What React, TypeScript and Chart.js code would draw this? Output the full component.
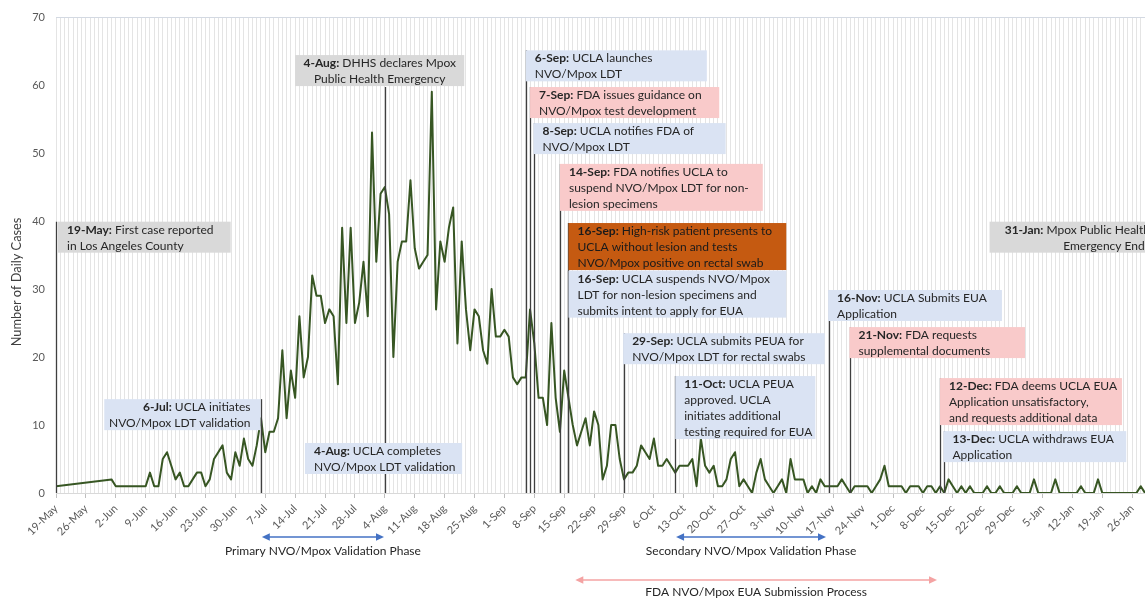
import React, { useEffect, useRef } from 'react';
import { Chart, registerables } from 'chart.js';

Chart.register(...registerables);

// ---------- DATA ----------
// Daily cases, index = days since 19-May (null = no report)
const dailyCases: (number | null)[] = [
  1, null, null, null, null, null, null, null, null, null, null, null, null, 2, 1, 1, 1, 1, 1, 1,
  1, 1, 3, 1, 1, 5, 6, 4, 2, 3, 1, 1, 2, 3, 3, 1, 2, 5, 6, 7,
  3, 2, 6, 4, 8, 5, 4, 7, 11, 6, 9, 9, 11, 21, 11, 18, 14, 26, 17, 20,
  32, 29, 29, 25, 27, 26, 16, 39, 25, 39, 25, 28, 34, 26, 53, 34, 44, 45, 41, 20,
  34, 37, 37, 46, 36, 33, 34, 35, 59, 27, 37, 34, 39, 42, 22, 37, 27, 21, 27, 26,
  21, 19, 30, 23, 23, 24, 23, 17, 16, 17, 17, 27, 22, 14, 14, 10, 25, 14, 9, 18,
  14, 10, 7, 9, 11, 7, 12, 10, 2, 4, 10, 10, 5, 2, 3, 3, 4, 7, 6, 5,
  8, 4, 4, 5, 4, 3, 4, 4, 4, 5, 1, 8, 4, 3, 4, 1, 1, 2, 5, 6,
  1, 2, 1, 0, 3, 5, 2, 1, 0, 1, 2, 0, 5, 2, 2, 2, 0, 1, 0, 2,
  1, 1, 1, 1, 2, 1, 0, 1, 1, 1, 1, 0, 1, 2, 4, 1, 1, 1, 1, 0,
  1, 1, 1, 0, 1, 1, 0, 1, 0, 2, 1, 0, 1, 0, 1, 0, 0, 0, 1, 0,
  0, 1, 0, 0, 0, 1, 0, 0, 0, 2, 0, 0, 0, 0, 2, 0, 0, 0, 0, 0,
  1, 0, 0, 0, 2, 0, 0, 0, 0, 0, 0, 0, 0, 0, 1, 0,
];

// Weekly tick labels (every 7 days from 19-May)
const tickLabels = [
  '19-May', '26-May', '2-Jun', '9-Jun', '16-Jun', '23-Jun', '30-Jun', '7-Jul', '14-Jul', '21-Jul',
  '28-Jul', '4-Aug', '11-Aug', '18-Aug', '25-Aug', '1-Sep', '8-Sep', '15-Sep', '22-Sep', '29-Sep',
  '6-Oct', '13-Oct', '20-Oct', '27-Oct', '3-Nov', '10-Nov', '17-Nov', '24-Nov', '1-Dec', '8-Dec',
  '15-Dec', '22-Dec', '29-Dec', '5-Jan', '12-Jan', '19-Jan', '26-Jan',
];

const yTicks = [0, 10, 20, 30, 40, 50, 60, 70];

// Events (day index since 19-May)
const eventDays = [0, 48, 77, 77, 110, 111, 112, 118, 120, 120, 133, 145, 181, 186, 207, 208, 257];
const eventTitles = [
  '19-May:', '6-Jul:', '4-Aug:', '4-Aug:', '6-Sep:', '7-Sep:', '8-Sep:', '14-Sep:', '16-Sep:',
  '16-Sep:', '29-Sep:', '11-Oct:', '16-Nov:', '21-Nov:', '12-Dec:', '13-Dec:', '31-Jan:',
];
const eventLines = [
  ['First case reported', 'in Los Angeles County'],
  ['UCLA initiates', 'NVO/Mpox LDT validation'],
  ['DHHS declares Mpox', 'Public Health Emergency'],
  ['UCLA completes', 'NVO/Mpox LDT validation'],
  ['UCLA launches', 'NVO/Mpox LDT'],
  ['FDA issues guidance on', 'NVO/Mpox test development'],
  ['UCLA notifies FDA of', 'NVO/Mpox LDT'],
  ['FDA notifies UCLA to', 'suspend NVO/Mpox LDT for non-', 'lesion specimens'],
  ['High-risk patient presents to', 'UCLA without lesion and tests', 'NVO/Mpox positive on rectal swab'],
  ['UCLA suspends NVO/Mpox', 'LDT for non-lesion specimens and', 'submits intent to apply for EUA'],
  ['UCLA submits PEUA for', 'NVO/Mpox LDT for rectal swabs'],
  ['UCLA PEUA', 'approved. UCLA', 'initiates additional', 'testing required for EUA'],
  ['UCLA Submits EUA', 'Application'],
  ['FDA requests', 'supplemental documents'],
  ['FDA deems UCLA EUA', 'Application unsatisfactory,', 'and requests additional data'],
  ['UCLA withdraws EUA', 'Application'],
  ['Mpox Public Health', 'Emergency Ends'],
];

// Phases below the axis
const phaseLabels = [
  'Primary NVO/Mpox Validation Phase',
  'Secondary NVO/Mpox Validation Phase',
  'FDA NVO/Mpox EUA Submission Process',
];
const phaseStartDays = [48.2, 145.2, 121.6];
const phaseEndDays = [76.8, 180.3, 206.3];

// ---------- LAYOUT / STYLE ----------
const GRAY = '#d9d9d9';
const BLUE = '#dae3f3';
const PINK = '#f9caca';
const ORANGE = '#c55a11';
const boxFill = [GRAY, BLUE, GRAY, BLUE, BLUE, PINK, BLUE, PINK, ORANGE, BLUE, BLUE, BLUE, BLUE, PINK, PINK, BLUE, GRAY];
// box extents in axis units (days, case values)
const boxX0 = [0.47, 11.3, 56.0, 58.3, 110.0, 111.0, 111.8, 118.0, 120.0, 120.0, 132.8, 145.0, 180.8, 185.8, 207.0, 207.8, 218.6];
const boxX1 = [40.9, 47.9, 95.6, 95.1, 152.4, 155.3, 156.8, 165.5, 171.0, 171.0, 180.0, 177.8, 221.5, 226.9, 249.6, 250.6, 258.5];
const boxTop = [39.9, 13.8, 64.4, 7.35, 65.1, 59.7, 54.4, 48.4, 39.7, 32.7, 23.5, 17.2, 29.85, 24.4, 16.9, 9.1, 39.9];
const boxAlign = ['left', 'right', 'center', 'left', 'left', 'left', 'left', 'left', 'left', 'left', 'left', 'left', 'left', 'left', 'left', 'left', 'right'];
// vertical line top (in case units); null = no own line
const lineTop: (number | null)[] = [39.9, 13.8, 59.7, null, 65.1, 59.7, 54.4, 48.4, 39.7, 32.7, 23.5, 17.2, 29.85, 24.4, 16.9, 9.1, 39.9];

const phaseColors = ['#4472c4', '#4472c4', '#f4a3a3'];
const phaseArrowY = [537, 537, 580];
const phaseTextY = [551, 551, 592];

const FONT = 'Lato, "Open Sans", "DejaVu Sans", sans-serif';
const TXT = 12;
const LINE_H = 16;

const annotationPlugin = {
  id: 'annotations',
  afterDatasetsDraw(chart: any) {
    const { ctx, scales } = chart;
    const x = scales.x;
    const y = scales.y;
    const y0 = y.getPixelForValue(0);
    ctx.save();

    // vertical event lines
    ctx.strokeStyle = '#3f3f3f';
    ctx.lineWidth = 1.3;
    eventDays.forEach((d, i) => {
      const t = lineTop[i];
      if (t === null) return;
      const px = Math.round(x.getPixelForValue(d)) + 0.5;
      ctx.beginPath();
      ctx.moveTo(px, y.getPixelForValue(t));
      ctx.lineTo(px, y0);
      ctx.stroke();
    });

    // boxes and texts
    eventDays.forEach((_d, i) => {
      const lines = eventLines[i];
      const bx0 = x.getPixelForValue(boxX0[i]);
      const bx1 = x.getPixelForValue(boxX1[i]);
      const by = y.getPixelForValue(boxTop[i]);
      const h = LINE_H * lines.length - 1;
      ctx.fillStyle = boxFill[i];
      ctx.fillRect(bx0, by, bx1 - bx0, h);

      ctx.textBaseline = 'middle';
      ctx.fillStyle = boxFill[i] === ORANGE ? '#1a1a1a' : '#262626';
      const bold = `bold ${TXT}px ${FONT}`;
      const reg = `${TXT}px ${FONT}`;
      lines.forEach((ln, j) => {
        const cy = by + 8.3 + j * LINE_H;
        let title = '';
        let rest = ln;
        if (j === 0) {
          title = eventTitles[i];
          rest = ' ' + ln;
        }
        ctx.font = bold;
        const tw = title ? ctx.measureText(title).width : 0;
        ctx.font = reg;
        const rw = ctx.measureText(rest).width;
        const total = tw + rw;
        let sx;
        if (boxAlign[i] === 'left') sx = bx0 + 9;
        else if (boxAlign[i] === 'right') sx = bx1 - 10 - total;
        else sx = (bx0 + bx1) / 2 - total / 2;
        ctx.textAlign = 'left';
        if (title) {
          ctx.font = bold;
          ctx.fillText(title, sx, cy);
        }
        ctx.font = reg;
        ctx.fillText(rest, sx + tw, cy);
      });
    });

    // phase arrows below the axis
    phaseLabels.forEach((lab, i) => {
      const xa = x.getPixelForValue(phaseStartDays[i]);
      const xb = x.getPixelForValue(phaseEndDays[i]);
      const ay = phaseArrowY[i];
      const head = 8;
      const hw = 3.8;
      ctx.strokeStyle = phaseColors[i];
      ctx.fillStyle = phaseColors[i];
      ctx.lineWidth = 1.6;
      ctx.beginPath();
      ctx.moveTo(xa + head - 1, ay);
      ctx.lineTo(xb - head + 1, ay);
      ctx.stroke();
      ctx.beginPath();
      ctx.moveTo(xa, ay);
      ctx.lineTo(xa + head, ay - hw);
      ctx.lineTo(xa + head, ay + hw);
      ctx.closePath();
      ctx.fill();
      ctx.beginPath();
      ctx.moveTo(xb, ay);
      ctx.lineTo(xb - head, ay - hw);
      ctx.lineTo(xb - head, ay + hw);
      ctx.closePath();
      ctx.fill();

      ctx.fillStyle = '#262626';
      ctx.font = `${TXT}px ${FONT}`;
      ctx.textAlign = 'center';
      ctx.textBaseline = 'middle';
      ctx.fillText(lab, (xa + xb) / 2, phaseTextY[i]);
    });

    // y axis title
    ctx.save();
    ctx.translate(17, 282);
    ctx.rotate(-Math.PI / 2);
    ctx.fillStyle = '#404040';
    ctx.font = `12.8px ${FONT}`;
    ctx.textAlign = 'center';
    ctx.textBaseline = 'middle';
    ctx.fillText('Number of Daily Cases', 0, 0);
    ctx.restore();

    ctx.restore();
  },
};

export default function App() {
  const ref = useRef<HTMLCanvasElement | null>(null);

  useEffect(() => {
    if (!ref.current) return;
    const points = dailyCases
      .map((v, i) => ({ x: i, y: v }))
      .filter((p) => p.y !== null) as { x: number; y: number }[];

    const chart = new Chart(ref.current, {
      type: 'line',
      data: {
        datasets: [
          {
            data: points,
            borderColor: '#375623',
            borderWidth: 2,
            pointRadius: 0,
            tension: 0,
            fill: false,
            borderJoinStyle: 'round',
          },
        ],
      },
      options: {
        animation: false,
        responsive: true,
        maintainAspectRatio: false,
        layout: { padding: { top: 17, left: 0, right: 0, bottom: 0 } },
        plugins: {
          legend: { display: false },
          tooltip: { enabled: false },
          title: { display: false },
        },
        scales: {
          x: {
            type: 'linear',
            min: 0,
            max: 255,
            ticks: {
              stepSize: 1,
              autoSkip: false,
              maxRotation: 45,
              minRotation: 45,
              color: '#595959',
              padding: 4,
              font: { family: FONT, size: 11 },
              callback: (v: any) => {
                const n = Number(v);
                return n % 7 === 0 && tickLabels[n / 7] !== undefined ? tickLabels[n / 7] : '';
              },
            },
            grid: {
              color: '#e4e4e4',
              lineWidth: 1,
              drawTicks: true,
              tickLength: 5,
              tickColor: (c: any) => (c.tick && c.tick.value % 7 === 0 ? '#bfbfbf' : 'rgba(0,0,0,0)'),
            },
            border: { display: true, color: '#d9d9d9', width: 1 },
            afterFit: (s: any) => {
              s.height = 105;
              s.paddingLeft = 0;
              s.paddingRight = 0;
            },
          },
          y: {
            min: 0,
            max: 70,
            afterBuildTicks: (s: any) => {
              s.ticks = yTicks.map((v) => ({ value: v }));
            },
            ticks: {
              color: '#595959',
              padding: 11,
              font: { family: FONT, size: 11 },
            },
            grid: {
              drawTicks: false,
              color: (c: any) => (c.tick && c.tick.value === 70 ? '#d3d9e2' : 'rgba(0,0,0,0)'),
            },
            border: { display: false },
            afterFit: (s: any) => {
              s.width = 56;
              s.paddingTop = 0;
              s.paddingBottom = 0;
            },
          },
        },
      },
      plugins: [annotationPlugin],
    });
    return () => chart.destroy();
  }, []);

  return (
    <div
      style={{
        position: 'fixed',
        left: 0,
        top: 0,
        width: 1145,
        height: 598,
        background: '#ffffff',
        overflow: 'hidden',
      }}
    >
      <canvas ref={ref} />
    </div>
  );
}
